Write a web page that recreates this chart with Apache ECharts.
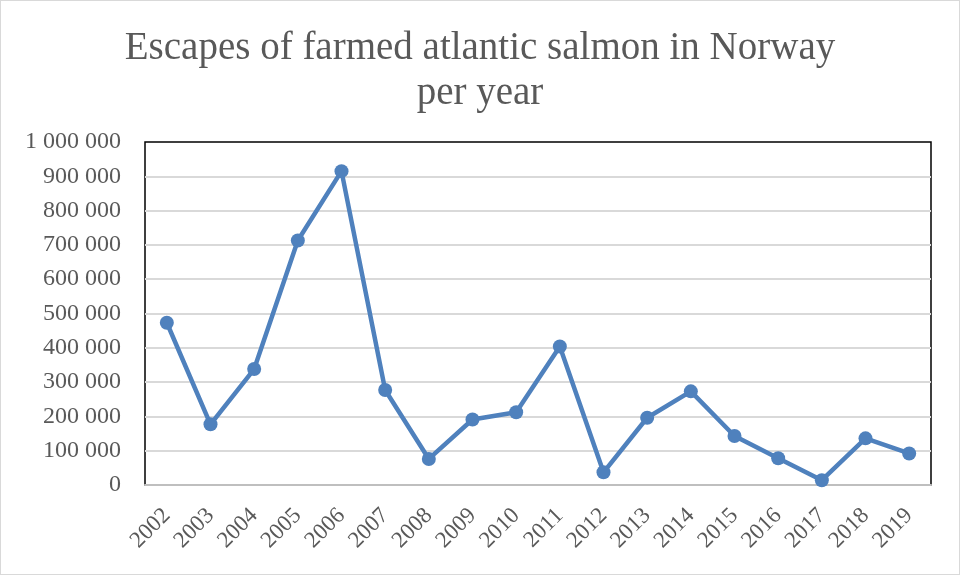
<!DOCTYPE html>
<html>
<head>
<meta charset="utf-8">
<script src="https://cdn.jsdelivr.net/npm/echarts@6/dist/echarts.min.js"></script>
<style>
  html, body { margin: 0; padding: 0; background: #fff; }
  #chart { width: 960px; height: 575px; box-sizing: border-box; border: 1px solid #d9d9d9; }
</style>
</head>
<body>
<div id="chart"></div>
<script>
// Escaped farmed salmon, number of fish per year
const years = ['2002','2003','2004','2005','2006','2007','2008','2009','2010',
               '2011','2012','2013','2014','2015','2016','2017','2018','2019'];
const escapes = [473000, 177000, 338000, 713000, 915000, 277000, 76000, 191000, 212000,
                 404000, 37000, 196000, 273000, 143000, 78000, 14000, 136000, 92000];
const titleLines = ['Escapes of farmed atlantic salmon in Norway', 'per year'];

const serif = '"Liberation Serif", "DejaVu Serif", serif';
const grey = '#595959';

// "1 000 000" style thousands grouping
function spaced(v) {
  return String(Math.round(v)).replace(/\B(?=(\d{3})+(?!\d))/g, ' ');
}

const chart = echarts.init(document.getElementById('chart'));
chart.setOption({
  animation: false,
  backgroundColor: '#fff',
  title: {
    text: titleLines.join('\n'),
    left: 'center',
    top: 20,
    textStyle: {
      fontFamily: serif,
      fontSize: 39,
      fontWeight: 'normal',
      color: grey,
      lineHeight: 45
    }
  },
  grid: {
    left: 144, top: 141, right: 28, bottom: 89,
    show: true,
    borderColor: '#000',
    borderWidth: 1.5,
    backgroundColor: '#fff'
  },
  xAxis: {
    type: 'category',
    data: years,
    boundaryGap: true,
    axisLine: { lineStyle: { color: '#bfbfbf', width: 2 } },
    axisTick: { show: false },
    axisLabel: {
      rotate: 45,
      interval: 0,
      margin: 27,
      fontFamily: serif,
      fontSize: 23,
      color: grey
    }
  },
  yAxis: {
    type: 'value',
    min: 0,
    max: 1000000,
    interval: 100000,
    axisLine: { show: false },
    axisTick: { show: false },
    splitLine: {
      showMinLine: false,
      showMaxLine: false,
      lineStyle: { color: '#d9d9d9', width: 2 }
    },
    axisLabel: {
      margin: 24,
      fontFamily: serif,
      fontSize: 24,
      color: grey,
      formatter: spaced
    }
  },
  series: [{
    type: 'line',
    data: escapes,
    color: '#4f81bd',
    lineStyle: { width: 4.5, color: '#4f81bd' },
    symbol: 'circle',
    symbolSize: 14,
    itemStyle: { color: '#4f81bd' }
  }]
});
</script>
</body>
</html>
